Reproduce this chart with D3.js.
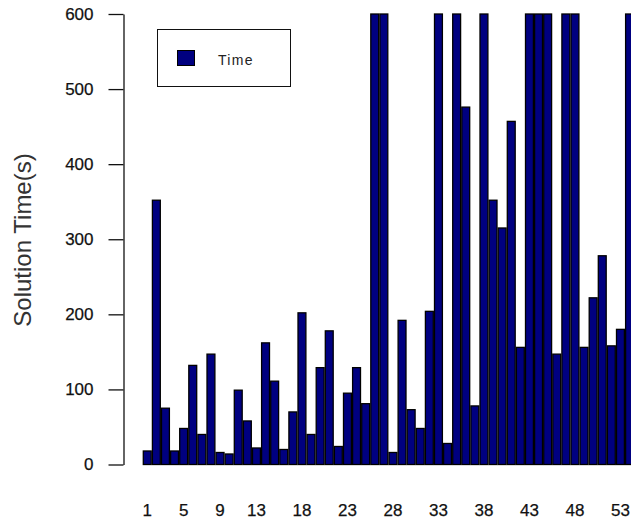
<!DOCTYPE html>
<html>
<head>
<meta charset="utf-8">
<script src="https://cdn.jsdelivr.net/npm/d3@7"></script>
<style>
  html, body { margin: 0; padding: 0; background: #fff; overflow: hidden; }
  svg { display: block; }
  text { font-family: "Liberation Sans", Arial, sans-serif; }
</style>
</head>
<body>
<svg id="chart" width="631" height="522"></svg>
<script>
// ---- data ----
const categories = ["1","2","3","4","5","6","7","8","9","10","11","12","13","14","15","16","17","18",
  "19","20","21","22","23","24","25","26","27","28","29","30","31","32","33","34","35","36",
  "37","38","39","40","41","42","43","44","45","46","47","48","49","50","51","52","53","54"];
const timeValues = [18, 352, 75, 18, 48, 132, 40, 147, 16, 14, 99, 58, 22, 162, 111, 20, 70, 202,
  40, 129, 178, 24, 95, 129, 81, 600, 600, 16, 192, 73, 48, 204, 600, 28, 600, 476,
  78, 600, 352, 315, 457, 156, 600, 600, 600, 147, 600, 600, 156, 222, 278, 158, 180, 600];
const xTickLabels = ["1","5","9","13","18","23","28","33","38","43","48","53"];
const yTicks = [0, 100, 200, 300, 400, 500, 600];
const seriesName = "Time";
const yTitle = "Solution Time(s)";

// ---- chart ----
const svg = d3.select("#chart");
const barColor = "#000080";

const x = d3.scaleBand()
  .domain(categories)
  .range([142.7, 142.7 + 9.1 * categories.length])
  .paddingInner(0).paddingOuter(0);

const y = d3.scaleLinear().domain([0, 600]).range([464.5, 14]);

// bars
svg.append("g").selectAll("rect")
  .data(categories.map((c, i) => ({ c, v: timeValues[i] })))
  .join("rect")
  .attr("x", d => x(d.c) + 0.6)
  .attr("y", d => y(d.v))
  .attr("width", x.bandwidth() - 1.2)
  .attr("height", d => y(0) - y(d.v))
  .attr("fill", barColor)
  .attr("stroke", "#000")
  .attr("stroke-width", 1.3);

// y axis
const yAxis = svg.append("g")
  .attr("transform", "translate(123.5,0)")
  .call(d3.axisLeft(y).tickValues(yTicks).tickSize(15).tickSizeOuter(0).tickPadding(15));
yAxis.select(".domain").attr("stroke", "#111").attr("stroke-width", 1.3);
yAxis.selectAll(".tick line").attr("stroke", "#111").attr("stroke-width", 1.3);
yAxis.selectAll(".tick text")
  .attr("font-family", "Liberation Sans, Arial, sans-serif")
  .attr("font-size", 17)
  .attr("fill", "#111")
  .attr("stroke", "#111")
  .attr("stroke-width", 0.25);

// x tick labels (no axis line)
const xAxis = svg.append("g")
  .attr("transform", "translate(0,465)")
  .call(d3.axisBottom(x).tickValues(xTickLabels).tickSize(0).tickPadding(39));
xAxis.select(".domain").remove();
xAxis.selectAll(".tick text")
  .attr("font-family", "Liberation Sans, Arial, sans-serif")
  .attr("font-size", 17)
  .attr("fill", "#111")
  .attr("stroke", "#111")
  .attr("stroke-width", 0.25);

// y title
svg.append("text")
  .attr("transform", "translate(31,240) rotate(-90)")
  .attr("text-anchor", "middle")
  .attr("font-size", 24)
  .attr("fill", "#333")
  .text(yTitle);

// legend
const lg = svg.append("g");
lg.append("rect")
  .attr("x", 157.5).attr("y", 29.5).attr("width", 133).attr("height", 57)
  .attr("fill", "#fff").attr("stroke", "#111").attr("stroke-width", 1);
lg.append("rect")
  .attr("x", 177.5).attr("y", 50.5).attr("width", 17).attr("height", 15)
  .attr("fill", barColor).attr("stroke", "#000").attr("stroke-width", 1);
lg.append("text")
  .attr("x", 218).attr("y", 65)
  .attr("font-size", 14)
  .attr("letter-spacing", 1.3)
  .attr("fill", "#222")
  .text(seriesName);
</script>
</body>
</html>
